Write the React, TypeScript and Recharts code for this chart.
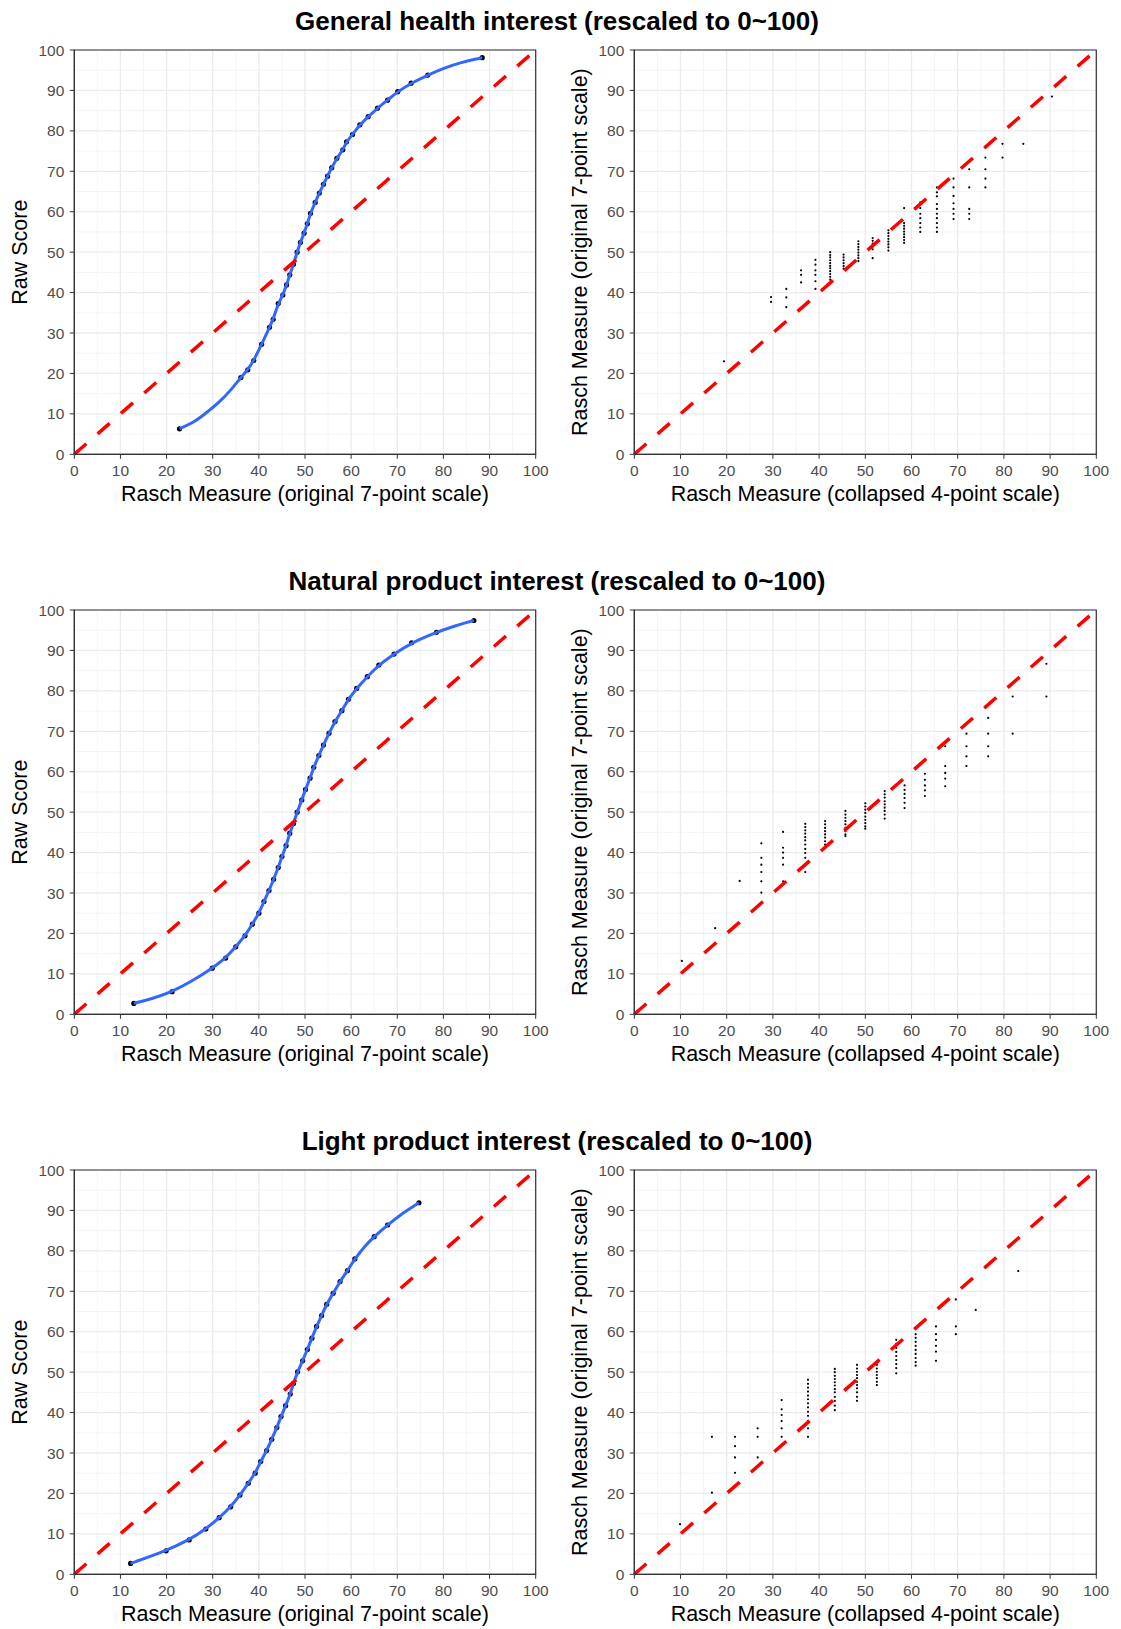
import React from 'react';
import {
  ComposedChart,
  XAxis,
  YAxis,
  CartesianGrid,
  Scatter,
  Line,
  ReferenceLine,
  ReferenceArea,
} from 'recharts';

// ---------- tick labels ----------
const TICKS = [0, 10, 20, 30, 40, 50, 60, 70, 80, 90, 100];
const MINOR_TICKS = [5, 15, 25, 35, 45, 55, 65, 75, 85, 95];

// ---------- titles ----------
const TITLES = [
  'General health interest (rescaled to 0~100)',
  'Natural product interest (rescaled to 0~100)',
  'Light product interest (rescaled to 0~100)',
];
const LEFT_X_TITLE = 'Rasch Measure (original 7-point scale)';
const LEFT_Y_TITLE = 'Raw Score';
const RIGHT_X_TITLE = 'Rasch Measure (collapsed 4-point scale)';
const RIGHT_Y_TITLE = 'Rasch Measure (original 7-point scale)';

// ---------- General health: raw score vs Rasch measure ----------
const ghMeasure = [22.8, 36.1, 37.6, 38.9, 40.6, 42.3, 43.1, 44.2, 45.2, 46.0, 46.7, 47.5, 48.3, 49.0, 49.8, 50.5, 51.2, 52.2, 53.1, 54.0, 54.9, 55.8, 56.9, 58.2, 59.0, 60.3, 61.9, 63.7, 65.7, 67.9, 70.1, 73.0, 76.6, 88.4];
const ghRaw = [6.3, 19.0, 20.9, 23.2, 27.2, 31.4, 33.4, 37.3, 39.4, 41.9, 44.4, 47.0, 50.0, 52.4, 54.7, 57.0, 59.6, 62.3, 64.6, 66.8, 68.8, 70.9, 73.2, 75.3, 77.3, 79.1, 81.5, 83.5, 85.6, 87.6, 89.7, 91.8, 93.8, 98.1];
// smooth-line trace read between the sparse points
const ghLineGapX = [26.0, 28.0, 31.6, 34.0, 80.0, 84.0];
const ghLineGapY = [8.0, 9.7, 13.0, 16.0, 95.5, 97.0];

// ---------- Natural product: raw score vs Rasch measure ----------
const npMeasure = [12.9, 21.2, 29.9, 32.8, 35.0, 37.0, 38.6, 40.0, 41.1, 42.2, 43.2, 44.2, 45.0, 45.9, 46.7, 47.5, 48.3, 49.3, 50.1, 51.1, 51.9, 53.0, 54.0, 55.2, 56.5, 58.0, 59.4, 61.2, 63.5, 66.0, 69.3, 73.1, 78.5, 86.6];
const npRaw = [2.7, 5.6, 11.4, 13.9, 16.7, 19.4, 22.3, 25.0, 27.9, 30.6, 33.4, 36.3, 39.0, 41.7, 44.8, 47.2, 50.0, 53.0, 55.6, 58.4, 61.1, 64.0, 66.6, 69.5, 72.4, 75.1, 77.9, 80.6, 83.5, 86.4, 89.1, 91.9, 94.5, 97.4];
const npLineGapX = [17.0, 25.5, 82.5];
const npLineGapY = [3.9, 8.2, 96.1];

// ---------- Light product: raw score vs Rasch measure ----------
const lpMeasure = [12.2, 19.9, 24.9, 28.5, 31.4, 33.9, 35.9, 37.7, 39.2, 40.4, 41.7, 42.8, 43.9, 44.8, 45.8, 46.8, 47.5, 48.4, 49.5, 50.5, 51.5, 52.5, 53.6, 54.7, 56.1, 57.6, 59.2, 60.8, 65.0, 67.9, 74.7];
const lpRaw = [2.7, 5.8, 8.5, 11.2, 14.0, 16.7, 19.6, 22.5, 25.0, 27.9, 30.6, 33.4, 36.3, 39.0, 41.7, 44.6, 47.2, 50.1, 52.8, 55.6, 58.4, 61.3, 64.0, 66.8, 69.5, 72.4, 75.1, 78.0, 83.5, 86.4, 91.9];
const lpLineGapX = [62.8, 71.2];
const lpLineGapY = [81.0, 89.4];

// ---------- General health: collapsed (x) vs original (y) ----------
const ghCollapsed = [19.4, 29.6, 32.9, 36.1, 39.2, 42.4, 45.3, 48.5, 51.6, 55.0, 58.4, 61.9, 65.5, 69.1, 72.5, 76.0, 79.7, 84.2, 90.4];
const ghOriginal = [
  [23.0],
  [38.9, 37.7],
  [40.9, 38.8, 36.4],
  [45.5, 44.4, 42.5],
  [48.1, 46.9, 45.5, 44.4, 42.8, 40.9],
  [50.0, 49.3, 48.7, 48.0, 47.3, 46.6, 46.0, 45.3, 44.6, 43.9, 43.2],
  [49.4, 48.7, 48.0, 47.3, 46.6, 45.9],
  [52.7, 52.0, 51.3, 50.6, 49.9, 49.2, 48.5, 47.8],
  [53.5, 52.8, 52.1, 51.4, 50.7, 48.5],
  [55.4, 54.7, 54.0, 53.3, 52.6, 51.9, 51.2, 50.4],
  [60.9, 57.2, 56.5, 55.8, 55.1, 54.4, 53.7, 53.0, 52.3],
  [62.3, 60.9, 59.5, 58.4, 57.2, 56.1, 55.0],
  [66.0, 64.8, 63.8, 61.9, 60.7, 59.5, 58.4, 57.2, 56.1, 55.0],
  [68.2, 66.0, 63.9, 62.1, 60.7, 59.5, 58.2],
  [70.5, 66.0, 60.7, 59.5, 58.2],
  [73.4, 70.5, 68.2, 66.0],
  [76.8, 73.4],
  [76.8],
  [88.5],
];

// ---------- Natural product: collapsed (x) vs original (y) ----------
const npCollapsed = [10.3, 17.5, 22.8, 27.5, 32.2, 37.0, 41.3, 45.7, 50.0, 54.2, 58.5, 62.9, 67.3, 71.9, 76.6, 81.9, 89.2];
const npOriginal = [
  [13.2],
  [21.3],
  [33.0],
  [42.3, 38.7, 37.0, 35.2, 32.9, 30.1],
  [45.1, 41.2, 40.0, 38.7, 37.0, 32.9],
  [47.1, 46.3, 45.5, 44.7, 43.8, 43.0, 42.0, 40.9, 39.9, 38.7, 37.0, 35.2],
  [47.8, 47.0, 46.1, 45.3, 44.5, 43.7, 42.8, 42.0, 41.1],
  [50.3, 49.4, 48.6, 47.8, 47.0, 46.1, 45.3, 44.5, 44.1],
  [52.2, 51.4, 50.6, 49.8, 48.9, 48.1, 47.3, 46.5, 45.9],
  [55.2, 54.4, 53.6, 52.7, 51.9, 51.1, 50.3, 49.4, 48.4],
  [56.6, 55.5, 54.5, 53.5, 52.3, 51.0],
  [59.5, 58.0, 56.6, 55.4, 54.0],
  [66.3, 61.4, 59.7, 58.3, 56.4],
  [69.4, 66.3, 63.8, 61.4],
  [73.3, 69.4, 66.3, 63.8],
  [78.6, 69.4],
  [86.7, 78.6],
];

// ---------- Light product: collapsed (x) vs original (y) ----------
const lpCollapsed = [9.9, 16.8, 21.8, 26.7, 31.9, 37.6, 43.4, 48.2, 52.5, 56.7, 60.9, 65.3, 69.6, 73.9, 83.1];
const lpOriginal = [
  [12.4],
  [34.0, 20.2],
  [34.0, 31.7, 28.9, 25.1],
  [36.1, 34.0, 28.9],
  [43.1, 40.8, 39.4, 37.9, 36.1, 34.0],
  [48.1, 47.1, 46.2, 45.2, 44.2, 43.3, 42.3, 41.3, 40.2, 39.2, 37.9, 36.1, 34.0],
  [50.8, 50.0, 49.1, 48.3, 47.5, 46.7, 45.8, 45.0, 43.9, 42.9, 41.7, 40.6],
  [51.8, 50.9, 50.1, 49.3, 48.5, 47.6, 46.8, 46.0, 45.0, 43.9, 42.9],
  [52.6, 51.8, 50.9, 50.1, 49.3, 48.5, 47.6, 46.8],
  [58.0, 57.0, 56.0, 55.0, 54.0, 53.0, 52.0, 51.0, 49.7],
  [59.4, 58.5, 57.5, 56.5, 55.5, 54.5, 53.5, 52.5, 51.6],
  [61.3, 59.4, 58.0, 56.5, 55.1, 52.8],
  [68.0, 61.3, 59.4],
  [65.4],
  [75.0],
];

// ---------- builders ----------
type Pt = { x: number; y: number };
const zipPts = (xs: number[], ys: number[]): Pt[] => xs.map((x, i) => ({ x, y: ys[i] }));
const colPts = (xs: number[], cols: number[][]): Pt[] => {
  const out: Pt[] = [];
  xs.forEach((x, i) => cols[i].forEach((y) => out.push({ x, y })));
  return out;
};
const withGap = (pts: Pt[], gx: number[], gy: number[]): Pt[] =>
  [...pts, ...zipPts(gx, gy)].sort((a, b) => a.x - b.x);

const ghPts = zipPts(ghMeasure, ghRaw);
const npPts = zipPts(npMeasure, npRaw);
const lpPts = zipPts(lpMeasure, lpRaw);

const ROWS = [
  { title: TITLES[0], dots: ghPts, line: withGap(ghPts, ghLineGapX, ghLineGapY), scatter: colPts(ghCollapsed, ghOriginal) },
  { title: TITLES[1], dots: npPts, line: withGap(npPts, npLineGapX, npLineGapY), scatter: colPts(npCollapsed, npOriginal) },
  { title: TITLES[2], dots: lpPts, line: withGap(lpPts, lpLineGapX, lpLineGapY), scatter: colPts(lpCollapsed, lpOriginal) },
];

// ---------- layout / style ----------
const FONT = '"Liberation Sans", Arial, Helvetica, sans-serif';
const ROW_TOPS = [50, 610, 1170];
const PLOT_H = 404.3;
const MARGIN_TOP = 10;
const X_AXIS_H = 54;

type PanelProps = {
  chartLeft: number;
  chartWidth: number;
  plotLeft: number;
  plotRight: number;
  top: number;
  xTitle: string;
  yTitle: string;
  points: Pt[];
  line?: Pt[];
  dotR: number;
};

function Panel(p: PanelProps) {
  const H = MARGIN_TOP + PLOT_H + X_AXIS_H;
  const yAxisW = p.plotLeft - p.chartLeft;
  const right = p.chartLeft + p.chartWidth - p.plotRight;
  const xTitleX = (p.plotLeft + p.plotRight) / 2 - p.chartLeft;
  const xTitleY = MARGIN_TOP + PLOT_H + 46.5;
  const yTitleX = 27.3;
  const yTitleY = MARGIN_TOP + PLOT_H / 2;
  const dot = (props: any) => <circle cx={props.cx} cy={props.cy} r={p.dotR} fill="#000000" />;
  const tickStyle = { fill: '#4D4D4D', fontSize: 15.5, fontFamily: FONT };
  return (
    <div style={{ position: 'absolute', left: p.chartLeft, top: p.top - MARGIN_TOP }}>
      <ComposedChart
        width={p.chartWidth}
        height={H}
        margin={{ top: MARGIN_TOP, right, bottom: 0, left: 0 }}
      >
        <CartesianGrid stroke="#EBEBEB" strokeWidth={1.3} />
        {MINOR_TICKS.map((v) => (
          <ReferenceLine key={'mx' + v} x={v} stroke="#EFEFEF" strokeWidth={0.7} {...{ zIndex: -90 }} />
        ))}
        {MINOR_TICKS.map((v) => (
          <ReferenceLine key={'my' + v} y={v} stroke="#EFEFEF" strokeWidth={0.7} {...{ zIndex: -90 }} />
        ))}
        <XAxis
          type="number"
          dataKey="x"
          domain={[0, 100]}
          ticks={TICKS}
          interval={0}
          allowDataOverflow
          height={X_AXIS_H}
          tickSize={4.5}
          tickMargin={6}
          tick={tickStyle}
          tickLine={{ stroke: '#333333' }}
          axisLine={{ stroke: '#333333' }}
          label={() => (
            <text x={xTitleX} y={xTitleY} textAnchor="middle" fontSize={21.5} fontFamily={FONT} fill="#000000">
              {p.xTitle}
            </text>
          )}
        />
        <YAxis
          type="number"
          dataKey="y"
          domain={[0, 100]}
          ticks={TICKS}
          interval={0}
          allowDataOverflow
          width={yAxisW}
          tickSize={4.5}
          tickMargin={5.5}
          tick={tickStyle}
          tickLine={{ stroke: '#333333' }}
          axisLine={{ stroke: '#333333' }}
          label={() => (
            <text
              x={yTitleX}
              y={yTitleY}
              transform={`rotate(-90 ${yTitleX} ${yTitleY})`}
              textAnchor="middle"
              fontSize={21.5}
              fontFamily={FONT}
              fill="#000000"
            >
              {p.yTitle}
            </text>
          )}
        />
        <Scatter data={p.points} shape={dot} isAnimationActive={false} {...{ zIndex: 600 }} />
        {p.line && (
          <Line
            data={p.line}
            dataKey="y"
            type="basis"
            stroke="#3366FF"
            strokeWidth={3}
            dot={false}
            activeDot={false}
            isAnimationActive={false}
            {...{ zIndex: 700 }}
          />
        )}
        <ReferenceLine
          segment={[{ x: 0, y: 0 }, { x: 100, y: 100 }]}
          stroke="#FF0000"
          strokeWidth={3.5}
          strokeDasharray="16 15"
          {...{ zIndex: 800 }}
        />
        <ReferenceArea
          x1={0}
          x2={100}
          y1={0}
          y2={100}
          fill="none"
          fillOpacity={0}
          stroke="#333333"
          strokeWidth={1.2}
          {...{ zIndex: 900 }}
        />
      </ComposedChart>
    </div>
  );
}

export default function App() {
  return (
    <div
      style={{
        position: 'absolute',
        left: 0,
        top: 0,
        width: 1121,
        height: 1629,
        overflow: 'hidden',
        background: '#ffffff',
        fontFamily: FONT,
      }}
    >
      {ROWS.map((row, i) => (
        <React.Fragment key={i}>
          <svg
            width={1121}
            height={45}
            style={{ position: 'absolute', left: 0, top: ROW_TOPS[i] - 50 }}
          >
            <text x={557} y={29.5} textAnchor="middle" fontSize={26} fontWeight="bold" fontFamily={FONT} fill="#000000">
              {row.title}
            </text>
          </svg>
          <Panel
            chartLeft={0}
            chartWidth={560}
            plotLeft={74.3}
            plotRight={535.7}
            top={ROW_TOPS[i]}
            xTitle={LEFT_X_TITLE}
            yTitle={LEFT_Y_TITLE}
            points={row.dots}
            line={row.line}
            dotR={2.6}
          />
          <Panel
            chartLeft={560}
            chartWidth={561}
            plotLeft={634.3}
            plotRight={1096.3}
            top={ROW_TOPS[i]}
            xTitle={RIGHT_X_TITLE}
            yTitle={RIGHT_Y_TITLE}
            points={row.scatter}
            dotR={1.1}
          />
        </React.Fragment>
      ))}
    </div>
  );
}
